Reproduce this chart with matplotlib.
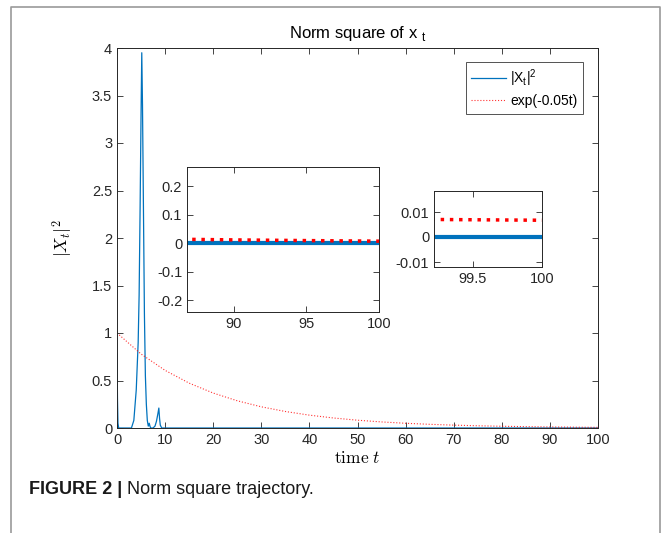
import matplotlib
matplotlib.use("Agg")
import matplotlib.pyplot as plt
from matplotlib.lines import Line2D

plt.rcParams['font.family'] = ['Liberation Sans', 'DejaVu Sans']

# ---- data ----
t_norm = [0, 0.1, 0.2, 0.35, 1, 2, 3.0, 3.5, 4.0, 4.4, 4.6, 4.8, 5.0, 5.15, 5.3, 5.5, 5.7, 5.9,
          6.1, 6.3, 6.5, 6.7, 6.85, 7.0, 7.5, 7.9, 8.2, 8.5, 8.7, 8.85, 9.0, 9.3, 10, 20, 30, 40,
          50, 60, 70, 80, 90, 100]
x_norm = [0.78, 0.30, 0.05, 0.0, 0.0, 0.0, 0.0, 0.08, 0.4, 0.9, 1.4, 2.3, 3.3, 3.95, 3.4, 2.3,
          1.2, 0.55, 0.25, 0.08, 0.02, 0.05, 0.02, 0.0, 0.0, 0.02, 0.07, 0.15, 0.21, 0.10, 0.03,
          0.0, 0.0, 0.0, 0.0, 0.0, 0.0, 0.0, 0.0, 0.0, 0.0, 0.0]
t_exp = [0, 5, 10, 15, 20, 25, 30, 35, 40, 45, 50, 55, 60, 65, 70, 75, 80, 85, 90, 95, 100]
v_exp = [1.0, 0.7788, 0.6065, 0.4724, 0.3679, 0.2865, 0.2231, 0.1738, 0.1353, 0.1054, 0.0821,
         0.0639, 0.0498, 0.0388, 0.0302, 0.0235, 0.0183, 0.0143, 0.0111, 0.0087, 0.0067]

main_xticks = [0, 10, 20, 30, 40, 50, 60, 70, 80, 90, 100]
main_yticks = [0, 0.5, 1, 1.5, 2, 2.5, 3, 3.5, 4]
main_yticklabels = ['0', '0.5', '1', '1.5', '2', '2.5', '3', '3.5', '4']
in1_xticks = [90, 95, 100]
in1_yticks = [-0.2, -0.1, 0, 0.1, 0.2]
in1_yticklabels = ['-0.2', '-0.1', '0', '0.1', '0.2']
in2_xticks = [99.5, 100]
in2_xticklabels = ['99.5', '100']
in2_yticks = [-0.01, 0, 0.01]
in2_yticklabels = ['-0.01', '0', '0.01']

blue = '#0072BD'
red = '#FF0000'

fig = plt.figure(figsize=(6.65, 5.33), dpi=100)
W, H = 665, 533

def rect(l, t, r, b):
    return [l / W, 1 - b / H, (r - l) / W, (b - t) / H]

# frame border
fig.add_artist(Line2D([11 / W, 11 / W, 660 / W, 660 / W], [0, 1 - 7 / H, 1 - 7 / H, 0],
                      transform=fig.transFigure, color='#9a9a9a', lw=1.2))

def style(ax, fs=10.5):
    ax.tick_params(direction='in', top=True, right=True, length=4, width=0.6,
                   labelsize=fs, colors='#262626')
    for s in ax.spines.values():
        s.set_linewidth(0.7)
        s.set_color('#262626')

ax = fig.add_axes(rect(117, 48, 598, 428))
l1, = ax.plot(t_norm, x_norm, color=blue, lw=0.9, label=r'|X$_{\mathregular{t}}$|$^{\mathregular{2}}$')
l2, = ax.plot(t_exp, v_exp, color=red, lw=0.8, ls=':', alpha=0.8, label='exp(-0.05t)')
ax.set_xlim(0, 100)
ax.set_ylim(0, 4)
ax.set_xticks(main_xticks)
ax.set_yticks(main_yticks)
ax.set_yticklabels(main_yticklabels)
style(ax)
ax.set_title(r'Norm square of x $_{\mathregular{t}}$', fontsize=12, pad=7)
ax.set_xlabel(r'$\mathrm{time}\ t$', fontsize=12.5, math_fontfamily='cm', labelpad=2)
ax.set_ylabel(r'$|X_t|^2$', fontsize=12.5, math_fontfamily='cm', labelpad=12)
leg = ax.legend(loc='upper right', bbox_to_anchor=(0.969, 0.963), borderaxespad=0,
                fontsize=10, frameon=True, fancybox=False, edgecolor='#262626',
                handlelength=2.5, borderpad=0.4, labelspacing=0.35, handletextpad=0.3)
leg.get_frame().set_linewidth(0.7)

# inset 1
a1 = fig.add_axes(rect(187, 167, 379, 312))
a1.plot(t_norm, x_norm, color=blue, lw=3)
a1.plot(t_exp, v_exp, color=red, lw=2.5, ls=':')
a1.set_xlim(86.8, 100)
a1.set_ylim(-0.242, 0.267)
a1.set_xticks(in1_xticks)
a1.set_yticks(in1_yticks)
a1.set_yticklabels(in1_yticklabels)
style(a1)

# inset 2
a2 = fig.add_axes(rect(434, 191, 542, 267))
a2.plot(t_norm, x_norm, color=blue, lw=3)
a2.plot(t_exp, v_exp, color=red, lw=2.5, ls=':')
a2.set_xlim(99.22, 100)
a2.set_ylim(-0.012, 0.0184)
a2.set_xticks(in2_xticks)
a2.set_xticklabels(in2_xticklabels)
a2.set_yticks(in2_yticks)
a2.set_yticklabels(in2_yticklabels)
style(a2)

# caption
t1 = fig.text(29 / W, 1 - 489 / H, 'FIGURE 2 |', fontsize=13, fontweight='bold',
              va='center', ha='left', color='#1a1a1a')
fig.canvas.draw()
bb = t1.get_window_extent()
fig.text((bb.x1 + 5) / W, 1 - 489 / H, 'Norm square trajectory.', fontsize=13,
         va='center', ha='left', color='#1a1a1a')

fig.savefig('out.png', dpi=100)
